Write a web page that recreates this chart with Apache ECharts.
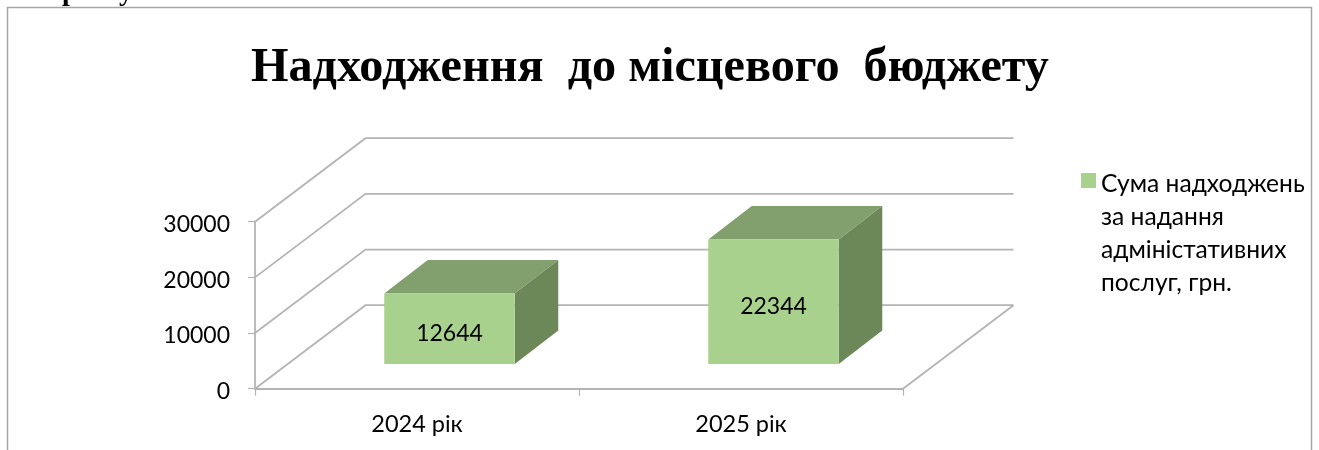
<!DOCTYPE html>
<html><head><meta charset="utf-8">
<style>html,body{margin:0;padding:0;background:#fff}#c{width:1319px;height:450px}</style>
<script src="https://cdn.jsdelivr.net/npm/echarts@6/dist/echarts.min.js"></script>
</head><body><div id="c"></div>
<script>
const categories = ['2024 рік', '2025 рік'];
const values = [12644, 22344];
const tickValues = [0, 10000, 20000, 30000];
const seriesName = 'Сума надходжень\nза надання\nадміністативних\nпослуг, грн.';
const titleText = 'Надходження  до місцевого  бюджету';

const DEPTH_X = 110.5, DEPTH_Y = -83.5;   // wall depth in px
const BAR_W = 130.5, BAR_DX = 43.5, BAR_DY = -33.5, BASE_DX = 32.5, BASE_DY = -24.7;
const SANS = 'Lato, "Open Sans", sans-serif';
const GRID_LINE = '#b4b4b4';

function renderWall(params, api) {
  const cs = params.coordSys;
  const v = api.value(0);
  const y = api.coord([0, v])[1];
  const x0 = cs.x, x1 = cs.x + cs.width;
  const style = { fill: null, stroke: GRID_LINE, lineWidth: 1.8 };
  const children = [{ type: 'polyline', shape: { points: [[x0, y], [x0 + DEPTH_X, y + DEPTH_Y], [x1 + DEPTH_X, y + DEPTH_Y]] }, style }];
  if (v === 0) children.push({ type: 'line', shape: { x1: x1, y1: y, x2: x1 + DEPTH_X, y2: y + DEPTH_Y }, style });
  return { type: 'group', children };
}
function renderBar(params, api) {
  const c = api.coord([api.value(0), api.value(1)]);
  const y0 = api.coord([api.value(0), 0])[1] + BASE_DY;
  const top = c[1] + BASE_DY;
  const l = c[0] + BASE_DX - BAR_W / 2, r = l + BAR_W;
  return { type: 'group', children: [
    { type: 'polygon', shape: { points: [[l, top], [r, top], [r + BAR_DX, top + BAR_DY], [l + BAR_DX, top + BAR_DY]] }, style: { fill: '#82A06D' } },
    { type: 'polygon', shape: { points: [[r, top], [r + BAR_DX, top + BAR_DY], [r + BAR_DX, y0 + BAR_DY], [r, y0]] }, style: { fill: '#6C8859' } },
    { type: 'rect', shape: { x: l, y: top, width: BAR_W, height: y0 - top }, style: { fill: '#A9D18E' } },
    { type: 'text', x: (l + r) / 2, y: (top + y0) / 2 + 5, style: { text: String(api.value(1)), fill: '#000', font: '23px ' + SANS, align: 'center', verticalAlign: 'middle' } }
  ] };
}
const chart = echarts.init(document.getElementById('c'), null, { renderer: 'canvas' });
chart.setOption({
  animation: false,
  backgroundColor: '#fff',
  title: { text: titleText, left: 251, top: 45, padding: 0,
    textStyle: { fontFamily: '"Liberation Serif", serif', fontWeight: 'bold', fontSize: 48.2, color: '#000' } },
  legend: { left: 1081, top: 167.5, padding: 0, orient: 'vertical', itemWidth: 15, itemHeight: 121, itemGap: 0,
    icon: 'path://M0 0H1V1H0Z M0 8.07L0 8.07Z', data: [seriesName],
    itemStyle: { color: '#A9D18E' },
    textStyle: { fontFamily: SANS, fontSize: 24.6, lineHeight: 33, color: '#000' } },
  grid: { left: 255, right: 416, top: 221.7, bottom: 61.3 },
  xAxis: { type: 'category', data: categories,
    axisLine: { lineStyle: { color: GRID_LINE, width: 1.8 } },
    axisTick: { show: true, length: 7, lineStyle: { color: GRID_LINE, width: 1.2 } },
    axisLabel: { color: '#000', fontFamily: SANS, fontSize: 23.5, margin: 24 } },
  yAxis: { type: 'value', min: 0, max: 30000, interval: 10000,
    axisLine: { show: true, lineStyle: { color: GRID_LINE, width: 1.8 } },
    axisTick: { show: true, length: 7, lineStyle: { color: GRID_LINE, width: 1.2 } },
    splitLine: { show: false },
    axisLabel: { color: '#000', fontFamily: SANS, fontSize: 23, margin: 25, formatter: v => String(v), verticalAlign: 'top', lineHeight: 6 } },
  series: [
    { type: 'custom', name: 'walls', silent: true, renderItem: renderWall, data: tickValues.map(v => [v]), encode: { y: 0 }, clip: false, z: 1 },
    { type: 'custom', name: seriesName, renderItem: renderBar, data: categories.map((c, i) => [i, values[i]]), encode: { x: 0, y: 1 }, clip: false, z: 2 }
  ],
  graphic: [
    { type: 'rect', shape: { x: 7.5, y: 7.5, width: 1304, height: 470 }, style: { fill: null, stroke: '#a6a6a6', lineWidth: 1.5 }, silent: true, z: -1 },
    { type: 'text', x: 62, y: -21, style: { text: 'р', fill: '#000', font: 'bold 28px "Liberation Serif", serif' }, silent: true },
    { type: 'text', x: 119, y: -21, style: { text: 'у', fill: '#000', font: 'bold 28px "Liberation Serif", serif' }, silent: true }
  ]
});
</script></body></html>
